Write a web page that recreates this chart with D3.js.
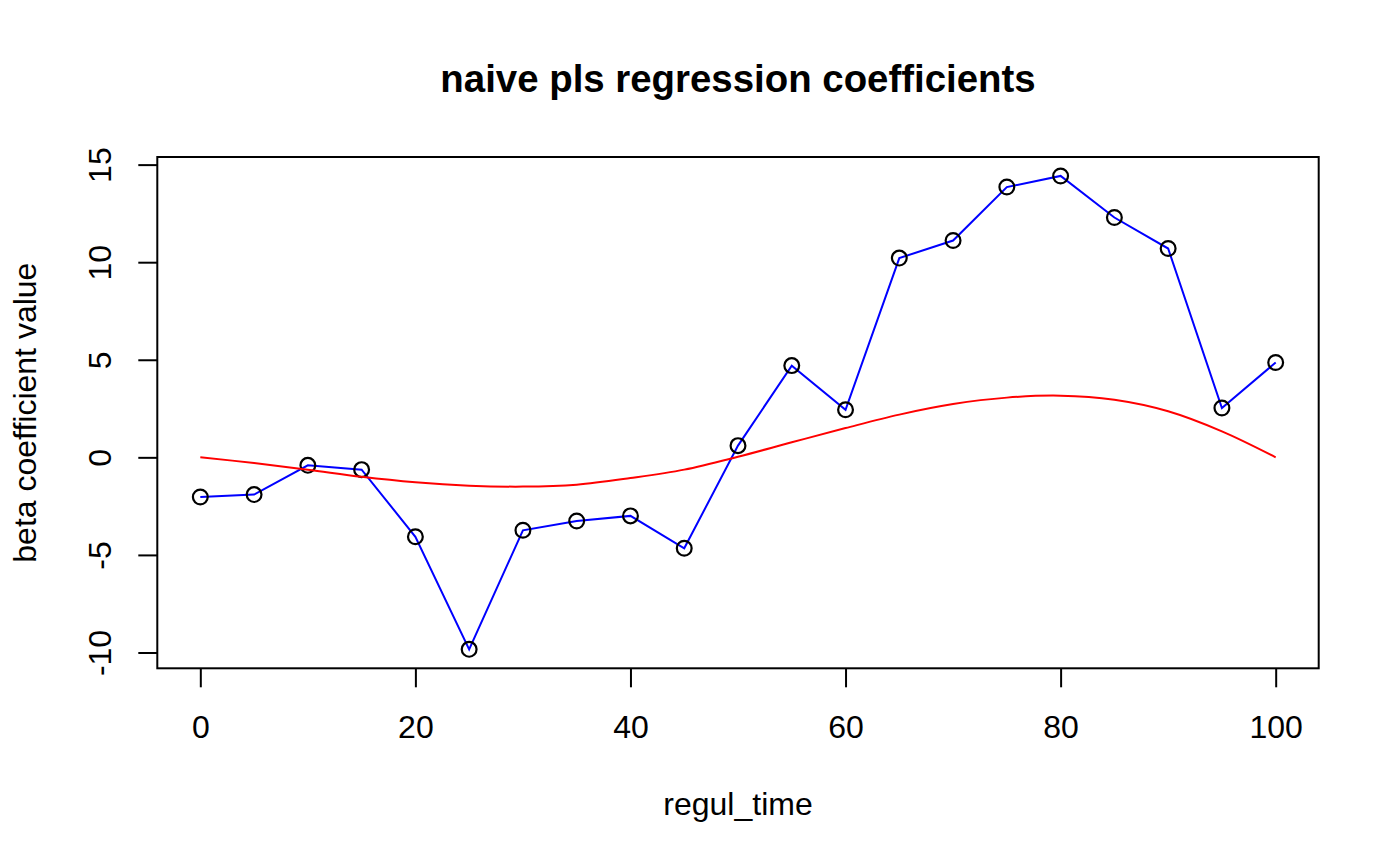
<!DOCTYPE html>
<html>
<head>
<meta charset="utf-8">
<script src="https://cdn.jsdelivr.net/npm/d3@7"></script>
<style>
    body { margin: 0; background: #fff; }
    text { font-family: "Liberation Sans", Arial, sans-serif; fill: #000; }
</style>
</head>
<body>
<div id="chart-area"></div>
<script>
// blue series: estimated pls coefficients at each regul_time
var coefTime = [0, 5, 10, 15, 20, 25, 30, 35, 40, 45, 50, 55, 60, 65, 70, 75, 80, 85, 90, 95, 100];
var coefValue = [-2.03, -1.91, -0.41, -0.63, -4.07, -9.84, -3.74, -3.26, -3.00, -4.66, 0.60,
    4.70, 2.44, 10.21, 11.11, 13.85, 14.42, 12.29, 10.70, 2.53, 4.86];

// red series: true coefficient curve, every 5 units
var trueTime = [0, 5, 10, 15, 20, 25, 30, 35, 40, 45, 50, 55, 60, 65, 70, 75, 80, 85, 90, 95, 100];
var trueValue = [0, -0.29, -0.63, -1.0, -1.28, -1.45, -1.50, -1.40, -1.06, -0.63, 0.03,
    0.77, 1.5, 2.19, 2.73, 3.06, 3.16, 2.95, 2.36, 1.33, 0];

var xTicks = [0, 20, 40, 60, 80, 100];
var yTicks = [-10, -5, 0, 5, 10, 15];

var titleText = "naive pls regression coefficients",
    xLabelText = "regul_time",
    yLabelText = "beta coefficient value";

var W = 1400, H = 865;
var box = { left: 157.3, right: 1318.7, top: 157, bottom: 668.3 };

var svg = d3.select("#chart-area")
    .append("svg")
    .attr("width", W)
    .attr("height", H);

// R style: data range extended by 4% on each side
var xMin = d3.min(coefTime), xMax = d3.max(coefTime),
    yMin = d3.min(coefValue), yMax = d3.max(coefValue);
var xPad = (xMax - xMin) * 0.04, yPad = (yMax - yMin) * 0.04;

var x = d3.scaleLinear().domain([xMin - xPad, xMax + xPad]).range([box.left, box.right]);
var y = d3.scaleLinear().domain([yMin - yPad, yMax + yPad]).range([box.bottom, box.top]);

// Axes (plain hyphen for negatives, like R)
var xAxis = svg.append("g")
    .attr("transform", "translate(0," + box.bottom + ")")
    .call(d3.axisBottom(x).tickValues(xTicks).tickFormat(String).tickSize(19).tickPadding(28));
var yAxis = svg.append("g")
    .attr("transform", "translate(" + box.left + ",0)")
    .call(d3.axisLeft(y).tickValues(yTicks).tickFormat(String).tickSize(19).tickPadding(0));

[xAxis, yAxis].forEach(function(a) {
    a.select(".domain").remove();
    a.selectAll(".tick line").attr("stroke", "#000").attr("stroke-width", 2);
    a.selectAll("text").attr("font-size", "32px").attr("fill", "#000")
        .attr("font-family", "Liberation Sans, Arial, sans-serif");
});
xAxis.selectAll(".tick text").attr("dy", null).attr("y", 70);

// y tick labels rotated like R (las = 0)
yAxis.selectAll(".tick text")
    .attr("x", null).attr("dy", null)
    .attr("text-anchor", "middle")
    .attr("transform", "translate(-46,0) rotate(-90)");

// Lines
var trueLine = d3.line()
    .x(function(d, i) { return x(trueTime[i]); })
    .y(function(d) { return y(d); })
    .curve(d3.curveCatmullRom.alpha(0.5));
var coefLine = d3.line()
    .x(function(d, i) { return x(coefTime[i]); })
    .y(function(d) { return y(d); });

svg.append("path")
    .attr("d", coefLine(coefValue))
    .attr("fill", "none")
    .attr("stroke", "#0000ff")
    .attr("stroke-width", 2);

svg.append("g").selectAll("circle")
    .data(coefValue)
    .enter()
    .append("circle")
    .attr("cx", function(d, i) { return x(coefTime[i]); })
    .attr("cy", function(d) { return y(d); })
    .attr("r", 7.4)
    .attr("fill", "none")
    .attr("stroke", "#000")
    .attr("stroke-width", 2.2);

svg.append("path")
    .attr("d", trueLine(trueValue))
    .attr("fill", "none")
    .attr("stroke", "#ff0000")
    .attr("stroke-width", 2);

// Plot box
svg.append("rect")
    .attr("x", box.left)
    .attr("y", box.top)
    .attr("width", box.right - box.left)
    .attr("height", box.bottom - box.top)
    .attr("fill", "none")
    .attr("stroke", "#000")
    .attr("stroke-width", 2);

// Labels
var cx = (box.left + box.right) / 2;
svg.append("text")
    .attr("x", cx)
    .attr("y", 92)
    .attr("text-anchor", "middle")
    .attr("font-size", "38.4px")
    .attr("font-weight", "bold")
    .text(titleText);
svg.append("text")
    .attr("x", cx)
    .attr("y", 815)
    .attr("text-anchor", "middle")
    .attr("font-size", "32px")
    .text(xLabelText);
svg.append("text")
    .attr("transform", "translate(36," + ((box.top + box.bottom) / 2) + ") rotate(-90)")
    .attr("text-anchor", "middle")
    .attr("font-size", "32px")
    .text(yLabelText);
</script>
</body>
</html>
